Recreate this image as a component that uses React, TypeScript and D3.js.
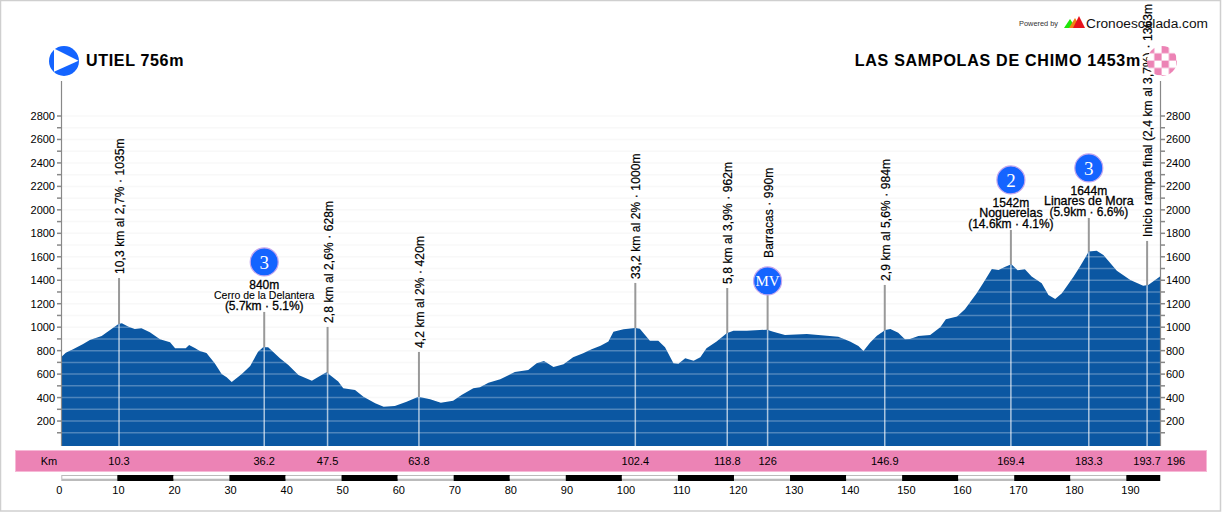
import * as d3 from "d3";

const W = 1222;
const H = 512;

// profile
const profileKm = [
  0, 0.8, 2.1, 3.9, 5.1, 7.2, 8.7, 10.2, 10.8, 12, 13.1, 14.3, 15.8, 17.6, 19.4, 20.3, 22.2, 22.8, 23.9, 24.7,
  25.9, 27.4, 28.6, 29.5, 30.4, 32.2, 33.7, 35.1, 36, 36.9, 39, 40.5, 42.3, 44.7, 45.9, 47.3, 49.4, 50.3, 52.4, 53.9,
  56, 57.5, 59.5, 61.6, 63.7, 65.8, 67.7, 69.9, 71.4, 73.5, 74.7, 76.2, 78.3, 80.9, 83.3, 84.8, 86.1, 87.8, 89.6, 91.3,
  93.1, 94.6, 96.2, 97.6, 98.5, 100.3, 102.4, 103.2, 105, 106.5, 107.7, 109.2, 110.1, 111.3, 112.8, 114, 115.1, 116.9, 118.7, 119.9,
  122.3, 125.9, 127, 129.1, 133, 138.6, 140.7, 142.2, 143.1, 144.3, 145.5, 147, 147.9, 149.3, 150.5, 151.4, 152.9, 155, 156.8, 157.8,
  159.8, 161.2, 163.3, 164.8, 166, 167.2, 168.4, 169.5, 170.6, 171.9, 173.1, 174.9, 176.1, 177.3, 178.5, 180.6, 181.7, 183.3, 184.7, 185.9,
  188.3, 190.7, 193, 193.9, 196,
];
const profileElev = [
  745, 783, 812, 857, 891, 925, 976, 1027, 1033, 1004, 985, 991, 957, 897, 871, 820, 820, 848, 820, 797,
  780, 690, 601, 573, 533, 601, 669, 791, 829, 829, 735, 678, 592, 544, 578, 615, 536, 479, 465, 408,
  351, 322, 328, 365, 408, 385, 356, 373, 422, 479, 488, 527, 556, 618, 635, 692, 712, 661, 684, 743,
  777, 812, 842, 877, 962, 982, 993, 987, 885, 885, 828, 692, 689, 735, 714, 743, 820, 877, 948, 970,
  970, 979, 962, 933, 942, 919, 877, 840, 797, 870, 928, 976, 985, 953, 897, 899, 925, 933, 999, 1067,
  1090, 1152, 1289, 1402, 1496, 1488, 1516, 1536, 1485, 1494, 1431, 1374, 1274, 1240, 1289, 1431, 1516, 1644, 1652, 1616,
  1482, 1402, 1354, 1360, 1431,
];

const markerKm = [10.3, 36.2, 47.5, 63.8, 102.4, 118.8, 126, 146.9, 169.4, 183.3, 193.7];
const markerKmLabels = ["10.3", "36.2", "47.5", "63.8", "102.4", "118.8", "126", "146.9", "169.4", "183.3", "193.7"];
// how high each leader line reaches, in metres on the same axis
const leaderTop = [1419, 1130, 1002, 789, 1377, 1334, 1275, 1360, 1829, 1931, 1735];
const sideLabels = [
  "10,3 km al 2,7% · 1035m",
  "",
  "2,8 km al 2,6% · 628m",
  "4,2 km al 2% · 420m",
  "33,2 km al 2% · 1000m",
  "5,8 km al 3,9% · 962m",
  "Barracas · 990m",
  "2,9 km al 5,6% · 984m",
  "",
  "",
  "Inicio rampa final (2,4 km al 3,7%) · 1363m",
];

const climbKm = [36.2, 169.4, 183.3];
const climbCat = ["3", "2", "3"];
const climbLines = [
  ["840m", "Cerro de la Delantera", "(5.7km · 5.1%)"],
  ["1542m", "Noguerelas", "(14.6km · 4.1%)"],
  ["1644m", "Linares de Mora", "(5.9km · 6.6%)"],
];

const elevTicks = d3.range(100, 2900, 100);
const kmTicks = d3.range(0, 200, 10);

const FONT = "'Liberation Sans', Arial, sans-serif";
const BLUE = "#0b57a2";
const PINK = "#ec83b5";
const MARKER = "#1464ff";

const x = d3.scaleLinear().domain([0, 196]).range([61.3, 1160]);
const y = d3.scaleLinear().domain([0, 2800]).range([444.5, 116]);
const base = 446;

const points = profileKm.map((k, i) => [k, profileElev[i]] as [number, number]);
const areaPath = d3.area<[number, number]>()
  .x((d) => x(d[0]))
  .y0(base)
  .y1((d) => y(d[1]))(points) as string;

const Badge = ({ cx, cy, label, size }: { cx: number; cy: number; label: string; size: number }) => (
  <g>
    <circle cx={cx} cy={cy} r={14} fill={MARKER} stroke="#c3a5ee" strokeWidth={1.2} />
    <text x={cx} y={cy + size * 0.35} textAnchor="middle" fontFamily="'Liberation Serif', serif" fontSize={size} fill="#fff">
      {label}
    </text>
  </g>
);

export default function App() {
  return (
    <svg width={W} height={H} style={{ position: "absolute", left: 0, top: 0 }} fontFamily={FONT}>
      <defs>
        <clipPath id="profile">
          <path d={areaPath} />
        </clipPath>
        <pattern id="checks" x={1147} y={46} width={14.6} height={14.6} patternUnits="userSpaceOnUse">
          <rect width={14.6} height={14.6} fill="#fff" />
          <rect x={0} y={0} width={7.3} height={7.3} fill={PINK} />
          <rect x={7.3} y={7.3} width={7.3} height={7.3} fill={PINK} />
        </pattern>
      </defs>

      <rect x={0.5} y={0.5} width={1220} height={510.5} fill="#fff" stroke="#cfcfcf" strokeWidth={1.5} />

      {/* faint grid above the profile */}
      {elevTicks.map((t) => (
        <line key={t} x1={x(0)} x2={x(196)} y1={y(t)} y2={y(t)} stroke="#f8f8f8" strokeWidth={1.5} />
      ))}

      {/* leader lines */}
      {markerKm.map((k, i) => (
        <line key={k} x1={x(k)} x2={x(k)} y1={y(leaderTop[i])} y2={base} stroke="#999" strokeWidth={2} />
      ))}

      <path d={areaPath} fill={BLUE} />

      <g clipPath="url(#profile)">
        {elevTicks.map((t) => (
          <line key={t} x1={x(0)} x2={x(196)} y1={y(t)} y2={y(t)} stroke="#fff" strokeOpacity={0.28} strokeWidth={1.5} />
        ))}
        {markerKm.map((k) => (
          <line key={k} x1={x(k)} x2={x(k)} y1={0} y2={base} stroke="#fff" strokeOpacity={0.65} strokeWidth={1.5} />
        ))}
      </g>

      {/* elevation axes */}
      <line x1={61.5} x2={61.5} y1={81} y2={base} stroke="#888" strokeWidth={1.2} />
      <line x1={1160.5} x2={1160.5} y1={81} y2={base} stroke="#888" strokeWidth={1.2} />
      {elevTicks.map((t) => (
        <g key={t}>
          <line x1={57} x2={61} y1={y(t)} y2={y(t)} stroke="#888" strokeWidth={1.5} />
          <line x1={1161} x2={1165} y1={y(t)} y2={y(t)} stroke="#888" strokeWidth={1.5} />
          {t % 200 === 0 && (
            <>
              <text x={55} y={y(t) + 4} textAnchor="end" fontSize={11}>{t}</text>
              <text x={1166} y={y(t) + 4} fontSize={11}>{t}</text>
            </>
          )}
        </g>
      ))}

      {/* rotated labels, the one under the MV badge sits above the badge */}
      {markerKm.map((k, i) =>
        sideLabels[i] ? (
          <text
            key={k}
            transform={`translate(${x(k) + 5},${y(leaderTop[i]) - (k === 126 ? 37 : 4)}) rotate(-90)`}
            fontSize={12}
            letterSpacing={0.1}
            stroke="#000"
            strokeWidth={0.2}
          >
            {sideLabels[i]}
          </text>
        ) : null
      )}

      {/* climbs */}
      {climbKm.map((k, i) => {
        const top = y(leaderTop[markerKm.indexOf(k)]);
        return (
          <g key={k}>
            {climbLines[i].map((s, j) => (
              <text
                key={s}
                x={x(k)}
                y={top - 23 + j * 10.3}
                textAnchor="middle"
                fontSize={j !== 1 ? 12 : i === 0 ? 10.5 : 12.4}
                stroke="#000"
                strokeWidth={j === 1 && i === 0 ? 0.1 : 0.3}
              >
                {s}
              </text>
            ))}
            <Badge cx={x(k)} cy={top - 50} label={climbCat[i]} size={19} />
          </g>
        );
      })}
      <Badge cx={x(126)} cy={y(leaderTop[6]) - 14} label="MV" size={15} />

      {/* start and finish */}
      <circle cx={64} cy={61} r={15} fill={MARKER} />
      <path d="M54,48.5L78.5,60.8L54,71.7Z" fill="#fff" />
      <text x={86} y={66} fontSize={16} fontWeight="bold" stroke="#000" strokeWidth={0.1} letterSpacing={0.68}>
        UTIEL 756m
      </text>
      <text x={1141} y={66} textAnchor="end" fontSize={16} fontWeight="bold" stroke="#000" strokeWidth={0.1} letterSpacing={0.76}>
        LAS SAMPOLAS DE CHIMO 1453m
      </text>
      <circle cx={1162} cy={61} r={15} fill="url(#checks)" />

      {/* logo */}
      <text x={1019} y={26} fontSize={7.4} fill="#333">Powered by</text>
      <path d="M1064,28L1070,19L1076,28Z" fill="#1ee60a" />
      <path d="M1069,28L1075,18L1081,28Z" fill="#f08214" />
      <path d="M1073,28L1079,16L1085,28Z" fill="#e8121c" />
      <text x={1086} y={28} fontSize={13.7} textLength={122} lengthAdjust="spacingAndGlyphs" fill="#111">Cronoescalada.com</text>

      {/* km band */}
      <rect x={15.5} y={450.5} width={1191} height={21} fill={PINK} stroke="#f6b9d6" strokeWidth={1} />
      <text x={49} y={465} textAnchor="middle" fontSize={11}>Km</text>
      {markerKm.map((k, i) => (
        <text key={k} x={x(k)} y={465} textAnchor="middle" fontSize={11}>{markerKmLabels[i]}</text>
      ))}
      <text x={1176} y={465} textAnchor="middle" fontSize={11}>196</text>

      {/* distance scale */}
      <rect x={x(0)} y={475} width={x(196) - x(0) + 1} height={6} fill="#bbb" />
      {kmTicks.map((k) => {
        const end = Math.min(k + 10, 196);
        return k % 20 === 0 ? (
          <rect key={k} x={x(k) + (k === 0 ? 1 : 0)} y={476} width={x(end) - x(k) - (k === 0 ? 1 : 0)} height={2.7} fill="#fff" />
        ) : (
          <rect key={k} x={x(k)} y={475} width={x(end) - x(k)} height={6} fill="#000" />
        );
      })}
      {kmTicks.map((k) => (
        <text key={k} x={x(k) - 5} y={494} fontSize={11}>{k}</text>
      ))}
    </svg>
  );
}
